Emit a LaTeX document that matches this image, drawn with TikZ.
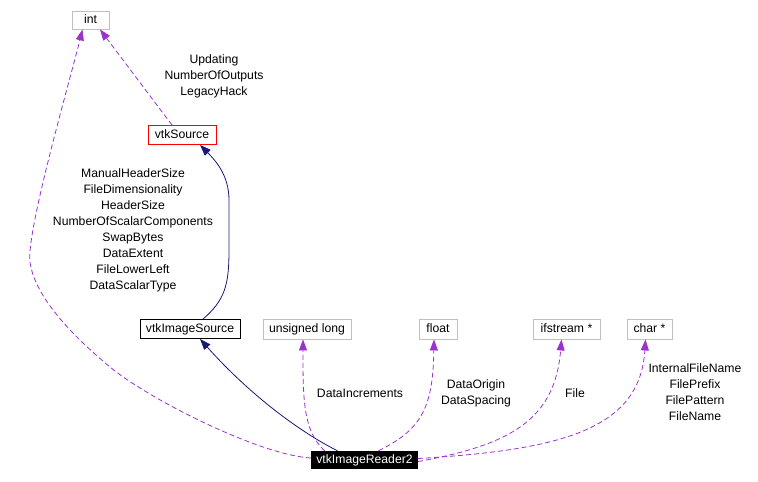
\documentclass[tikz,border=0pt]{standalone}
\usepackage{fontspec}
\setmainfont{Liberation Sans}
\usetikzlibrary{arrows.meta}
\definecolor{edgepurple}{HTML}{9A32CD}
\definecolor{edgenavy}{HTML}{191970}
\definecolor{boxgray}{HTML}{BFBFBF}
\begin{document}
\begin{tikzpicture}[x=1pt,y=-1pt,
  every node/.style={font=\fontsize{12.2}{16}\selectfont, inner sep=0pt},
  cls/.style={draw=boxgray, line width=0.9pt, minimum height=18pt, text height=9pt, text depth=2.5pt},
  maincls/.style={draw=black, line width=0.9pt, minimum height=19pt, text height=9pt, text depth=2.5pt},
  lbl/.style={align=center},
  use/.style={draw=edgepurple, line width=0.8pt, dash pattern=on 5pt off 3pt,
    -{Triangle[length=11pt,width=8pt,fill=edgepurple]}},
  inh/.style={draw=edgenavy, line width=0.8pt,
    -{Triangle[length=11pt,width=8pt,fill=edgenavy]}}]
\useasboundingbox (0,0) rectangle (758,482);
% nodes
\node[cls, minimum width=37pt] (int) at (90.5,20) {int};
\node[maincls, draw=red, minimum width=68pt] (src) at (182,135) {vtkSource};
\node[maincls, minimum width=100pt] (isrc) at (190,329) {vtkImageSource};
\node[cls, minimum width=88pt, minimum height=20pt] (ulong) at (307,329) {unsigned long};
\node[cls, minimum width=38pt, minimum height=20pt] (flt) at (438,329) {float};
\node[cls, minimum width=67pt, minimum height=20pt] (ifs) at (566.5,329) {ifstream *};
\node[cls, minimum width=45pt, minimum height=20pt] (chr) at (649.5,329) {char *};
\node[fill=black, text=white, minimum width=107pt, minimum height=18pt, text height=9pt, text depth=2.5pt] (rd) at (364.5,460) {vtkImageReader2};
% labels
\node[lbl] (l1) at (214,76) {Updating\\NumberOfOutputs\\LegacyHack};
\node[lbl] (l2) at (133,230) {ManualHeaderSize\\FileDimensionality\\HeaderSize\\NumberOfScalarComponents\\SwapBytes\\DataExtent\\FileLowerLeft\\DataScalarType};
\node[lbl] (l3) at (360,393) {DataIncrements};
\node[lbl] (l4) at (476,393) {DataOrigin\\DataSpacing};
\node[lbl] (l5) at (575,393) {File};
\node[lbl] (l6) at (695,392.5) {InternalFileName\\FilePrefix\\FilePattern\\FileName};
% edges
\draw[use] ([xshift=-10pt]src.north) -- ([xshift=9.5pt]int.south);
\draw[inh] ([xshift=13pt]isrc.north) .. controls (225,300) and (229,285) .. (229,250)
  -- (229,200) .. controls (229,175) and (215,160) .. ([xshift=18pt]src.south);
\draw[inh] ([xshift=-27pt]rd.north) .. controls (300,432) and (250,395) .. ([xshift=10pt]isrc.south);
\draw[use] ([yshift=2pt]rd.west) .. controls (260,455) and (150,400) .. (110,367)
  .. controls (80,342) and (35,300) .. (30,262)
  .. controls (26,232) and (70,80) .. ([xshift=-8pt]int.south);
\draw[use] ([xshift=-40pt]rd.north) .. controls (303,430) and (303,400) .. ([xshift=-4pt]ulong.south);
\draw[use] ([xshift=14pt]rd.north) .. controls (420,430) and (433,410) .. ([xshift=-4pt]flt.south);
\draw[use] ([yshift=-1.5pt]rd.east) .. controls (510,445) and (555,420) .. ([xshift=-5pt]ifs.south);
\draw[use] ([yshift=1.5pt]rd.east) .. controls (560,450) and (640,430) .. ([xshift=-4pt]chr.south);
\end{tikzpicture}
\end{document}
